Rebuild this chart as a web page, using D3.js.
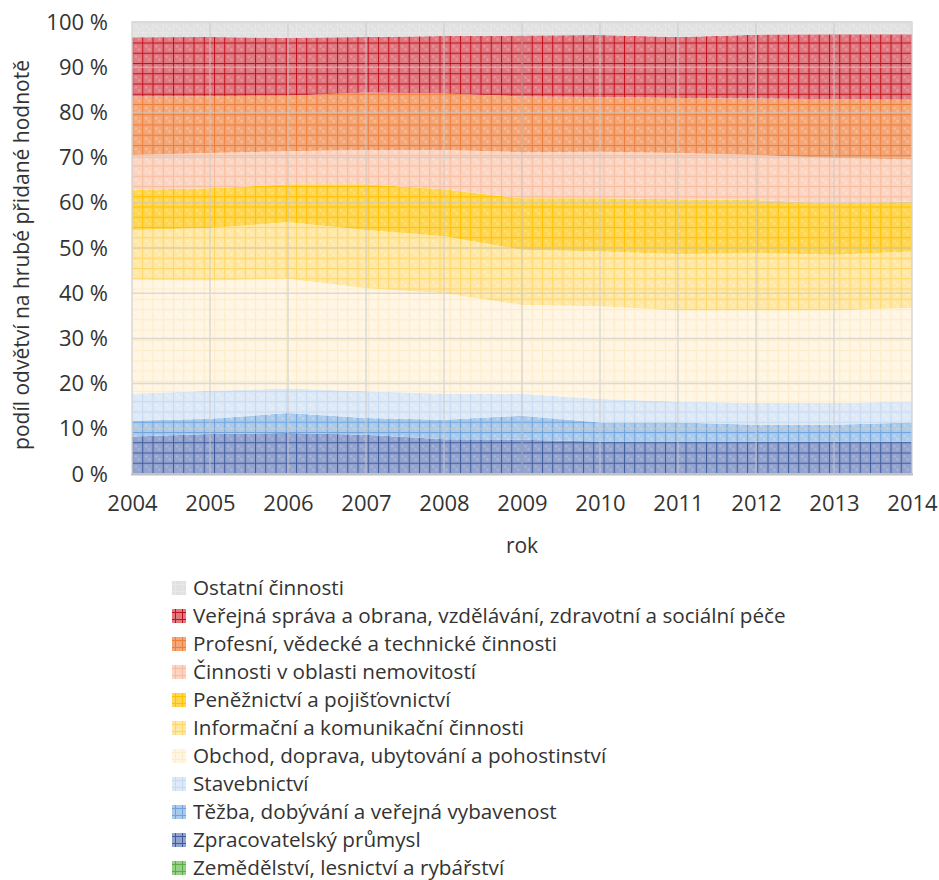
<!DOCTYPE html>
<html><head><meta charset="utf-8">
<script src="https://cdn.jsdelivr.net/npm/d3@7"></script>
<style>
body{margin:0;background:#fff;}
text{font-family:"Open Sans","Noto Sans",sans-serif;fill:#333;}
</style></head>
<body><svg id="chart" width="939" height="880"></svg>
<script>
const years = [2004,2005,2006,2007,2008,2009,2010,2011,2012,2013,2014];
const yTicks = [0,0.1,0.2,0.3,0.4,0.5,0.6,0.7,0.8,0.9,1.0];
// stack order: bottom to top
const seriesNames = [
  "Zemědělství, lesnictví a rybářství",
  "Zpracovatelský průmysl",
  "Těžba, dobývání a veřejná vybavenost",
  "Stavebnictví",
  "Obchod, doprava, ubytování a pohostinství",
  "Informační a komunikační činnosti",
  "Peněžnictví a pojišťovnictví",
  "Činnosti v oblasti nemovitostí",
  "Profesní, vědecké a technické činnosti",
  "Veřejná správa a obrana, vzdělávání, zdravotní a sociální péče",
  "Ostatní činnosti"
];
const zemedelstvi = [0.1,0.1,0.1,0.1,0.1,0.1,0.1,0.1,0.1,0.1,0.1];
const zpracovatelsky = [8.2,8.75,8.95,8.6,7.6,7.5,7.1,7.1,7.1,7.1,7.1];
const tezba = [3.5,3.35,4.45,3.7,4.3,5.3,4.2,4.2,3.7,3.7,4.2];
const stavebnictvi = [5.95,6.2,5.4,5.9,5.75,4.85,5.2,4.65,4.8,4.8,4.65];
const obchod = [25.25,24.4,24.3,22.8,22.25,19.65,20.5,20.15,20.5,20.5,20.75];
const informacni = [11.0,11.6,12.5,12.9,12.6,12.2,12.1,12.5,12.7,12.3,12.4];
const peneznictvi = [8.9,8.8,8.4,10.1,10.4,11.4,11.8,12.1,11.7,11.4,11.1];
const nemovitosti = [7.7,7.8,7.3,7.6,8.7,10.2,10.3,10.2,10.0,10.0,9.3];
const profesni = [12.9,12.6,12.3,12.7,12.5,12.3,12.1,12.2,12.5,13.0,13.2];
const verejna = [13.1,13.1,12.8,12.3,12.7,13.5,13.7,13.5,14.1,14.4,14.5];
const ostatni = [3.4,3.3,3.5,3.3,3.1,3.0,2.9,3.3,2.8,2.7,2.7];
const seriesValues = [zemedelstvi,zpracovatelsky,tezba,stavebnictvi,obchod,informacni,peneznictvi,nemovitosti,profesni,verejna,ostatni];

// styles: base, line
const styles = [
  {base:"#97cf86", line:"#5aac44", dot:"#b9e0ad"},
  {base:"#93a3cf", line:"#3f5c9c", dot:"#aeb9db"},
  {base:"#aacaec", line:"#6ea3dc", dot:"#c4daf2"},
  {base:"#dde9f6", line:"#c6daf0", dot:"#e9f1fa"},
  {base:"#fff5e2", line:"#fcecc9", dot:"#fffaf0"},
  {base:"#ffe8a5", line:"#ffd666", dot:"#fff2c8"},
  {base:"#ffd64f", line:"#ffc000", dot:"#ffe38a"},
  {base:"#fcd5c2", line:"#f6bca0", dot:"#fde4d8"},
  {base:"#f5a676", line:"#ec7e3a", dot:"#f8c3a2"},
  {base:"#e07880", line:"#c0101c", dot:"#ea9ca2"},
  {base:"#e1e1e1", line:"#e8e8e8", dot:"#ececec"}
];

const L=132, T=22, R=912, B=474;
const svg = d3.select("#chart");
const defs = svg.append("defs");
styles.forEach((s,i)=>{
  const p = defs.append("pattern").attr("id","pat"+i)
    .attr("patternUnits","userSpaceOnUse").attr("width",10.25).attr("height",10.25)
    .attr("x",L).attr("y",T);
  p.append("rect").attr("width",10.25).attr("height",10.25).attr("fill",s.base);
  p.append("rect").attr("x",3).attr("y",3).attr("width",2).attr("height",2).attr("fill",s.dot);
  p.append("rect").attr("x",6).attr("y",6).attr("width",2).attr("height",2).attr("fill",s.dot);
  p.append("rect").attr("x",0).attr("y",0).attr("width",10.25).attr("height",1).attr("fill",s.line);
  p.append("rect").attr("x",0).attr("y",0).attr("width",1).attr("height",10.25).attr("fill",s.line);
});

const data = years.map((y,i)=>{
  const o={year:y};
  seriesNames.forEach((n,k)=>o[n]=seriesValues[k][i]);
  return o;
});
const stack = d3.stack().keys(seriesNames).offset(d3.stackOffsetExpand);
const layers = stack(data);

const x = d3.scaleLinear().domain([2004,2014]).range([L,R]);
const y = d3.scaleLinear().domain([0,1]).range([B,T]);

const area = d3.area().x(d=>x(d.data.year)).y0(d=>y(d[0])).y1(d=>y(d[1]));
svg.append("g").selectAll("path").data(layers).join("path")
  .attr("d",area).attr("fill",(d,i)=>`url(#pat${i})`);

// gridlines on top (semi-transparent)
const grid = svg.append("g").attr("opacity",0.6);
grid.selectAll("line.h").data(yTicks.slice(1)).join("line")
  .attr("x1",L).attr("x2",R).attr("y1",d=>y(d)).attr("y2",d=>y(d))
  .attr("stroke","#c8c8c8").attr("stroke-width",1.5);
grid.selectAll("line.v").data(years.slice(1,-1)).join("line")
  .attr("x1",d=>x(d)).attr("x2",d=>x(d)).attr("y1",T).attr("y2",B)
  .attr("stroke","#c8c8c8").attr("stroke-width",1.5);

// border
svg.append("rect").attr("x",L).attr("y",T).attr("width",R-L).attr("height",B-T)
  .attr("fill","none").attr("stroke","#d9d9d9").attr("stroke-width",1.5);
svg.append("line").attr("x1",L-1).attr("x2",R+1).attr("y1",B+0.5).attr("y2",B+0.5)
  .attr("stroke","#bfbfbf").attr("stroke-width",2);

// axes
const yAxis = d3.axisLeft(y).tickValues(yTicks).tickSize(0).tickPadding(24)
  .tickFormat(d=>Math.round(d*100)+" %");
const gy = svg.append("g").attr("transform",`translate(${L},0)`).call(yAxis);
gy.select(".domain").remove();
gy.selectAll("text").attr("font-size",22).attr("fill","#333").attr("font-family",'"Open Sans",sans-serif');

const xAxis = d3.axisBottom(x).tickValues(years).tickSize(0).tickPadding(21).tickFormat(d3.format("d"));
const gx = svg.append("g").attr("transform",`translate(0,${B})`).call(xAxis);
gx.select(".domain").remove();
gx.selectAll("text").attr("font-size",22).attr("fill","#333").attr("font-family",'"Open Sans",sans-serif');

svg.append("text").attr("x",(L+R)/2).attr("y",553).attr("text-anchor","middle")
  .attr("font-size",21).text("rok");
svg.append("text").attr("transform","translate(29,255) rotate(-90)").attr("text-anchor","middle")
  .attr("font-size",21).text("podíl odvětví na hrubé přidané hodnotě");

// legend (top to bottom reversed)
const legendOrder = seriesNames.map((n,i)=>({n,i})).reverse();
const lg = svg.append("g");
legendOrder.forEach((d,k)=>{
  const cy = 588 + k*28;
  lg.append("rect").attr("x",172).attr("y",cy-7).attr("width",14).attr("height",14)
    .attr("fill",`url(#lp${d.i})`);
  lg.append("text").attr("x",193).attr("y",cy+7).attr("font-size",20.7).text(d.n);
});
styles.forEach((s,i)=>{
  const p = defs.append("pattern").attr("id","lp"+i)
    .attr("patternUnits","userSpaceOnUse").attr("width",7).attr("height",7).attr("x",172).attr("y",0);
  p.append("rect").attr("width",7).attr("height",7).attr("fill",s.base);
  p.append("rect").attr("x",3).attr("y",0).attr("width",1).attr("height",7).attr("fill",s.line);
  p.append("rect").attr("x",0).attr("y",3).attr("width",7).attr("height",1).attr("fill",s.line);
});
</script></body></html>
